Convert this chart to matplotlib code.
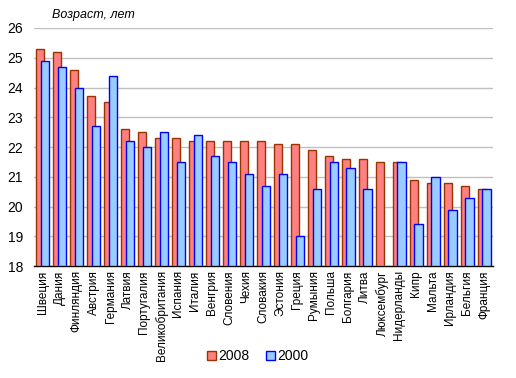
import matplotlib.pyplot as plt
import numpy as np

plt.rcParams['font.family'] = ['Liberation Sans', 'DejaVu Sans']

countries = ['Швеция', 'Дания', 'Финляндия', 'Австрия', 'Германия', 'Латвия',
             'Португалия', 'Великобритания', 'Испания', 'Италия', 'Венгрия',
             'Словения', 'Чехия', 'Словакия', 'Эстония', 'Греция', 'Румыния',
             'Польша', 'Болгария', 'Литва', 'Люксембург', 'Нидерланды', 'Кипр',
             'Мальта', 'Ирландия', 'Бельгия', 'Франция']
y2008 = [25.3, 25.2, 24.6, 23.7, 23.5, 22.6, 22.5, 22.3, 22.3, 22.2, 22.2,
         22.2, 22.2, 22.2, 22.1, 22.1, 21.9, 21.7, 21.6, 21.6, 21.5, 21.5,
         20.9, 20.8, 20.8, 20.7, 20.6]
y2000 = [24.9, 24.7, 24.0, 22.7, 24.4, 22.2, 22.0, 22.5, 21.5, 22.4, 21.7,
         21.5, 21.1, 20.7, 21.1, 19.0, 20.6, 21.5, 21.3, 20.6, np.nan, 21.5,
         19.4, 21.0, 19.9, 20.3, 20.6]

fig = plt.figure(figsize=(5.16, 3.78), dpi=100)
ax = fig.add_axes([0.066, 0.296, 0.889, 0.63])

x = np.arange(len(countries))
w = 0.5
ax.bar(x - 0.14, np.array(y2008) - 18, w, bottom=18, color='#FF8080',
       edgecolor='#993300', linewidth=1.0, label='2008', zorder=3)
ax.bar(x + 0.14, np.array(y2000) - 18, w, bottom=18, color='#99CCFF',
       edgecolor='#0000FF', linewidth=1.0, label='2000', zorder=4)

ax.set_ylim(18, 26)
ax.set_xlim(-0.5, len(countries) - 0.5)
ax.set_yticks(range(18, 27))
ax.yaxis.grid(True, color='#C0C0C0', linewidth=1)
ax.set_axisbelow(True)
for s in ['left', 'right', 'top']:
    ax.spines[s].set_visible(False)
ax.spines['bottom'].set_linewidth(1)
ax.tick_params(axis='y', length=0, labelsize=10, pad=8)
ax.tick_params(axis='x', length=0, labelsize=8.5, pad=3)
ax.set_xticks(x)
ax.set_xticklabels(countries, rotation=90)

fig.text(0.1, 0.952, 'Возраст, лет', fontsize=9, style='italic')

fig.legend(loc='center', bbox_to_anchor=(0.5, 0.058), ncol=2, frameon=False,
           fontsize=10, handlelength=0.6, handleheight=0.6, handletextpad=0.2,
           columnspacing=1.2)

fig.savefig('out.png', dpi=100)
